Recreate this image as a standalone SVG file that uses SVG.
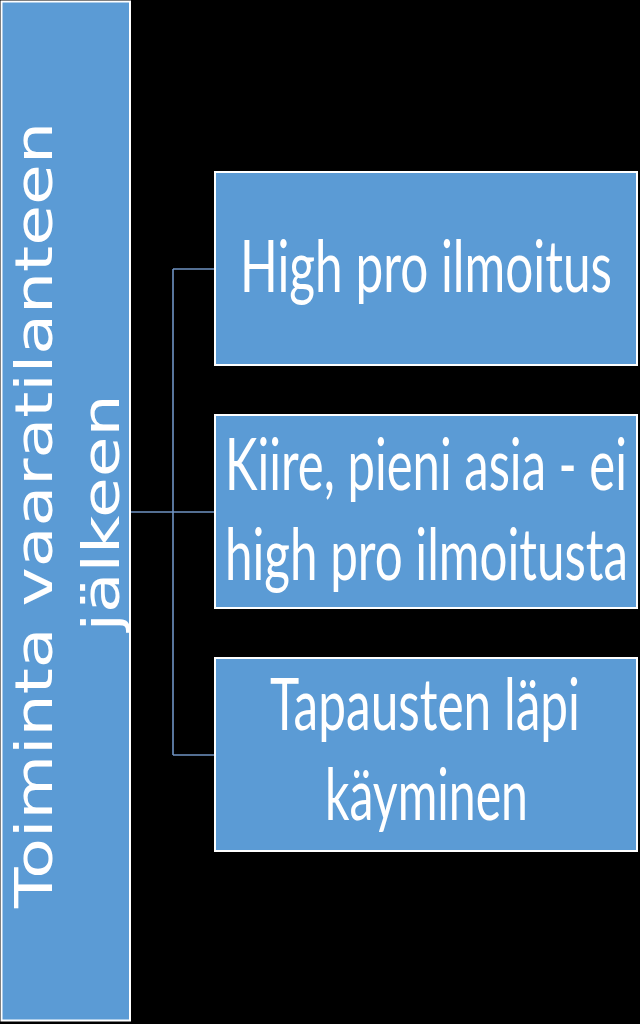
<svg xmlns="http://www.w3.org/2000/svg" width="640" height="1024" viewBox="0 0 640 1024">
  <style>
    .box { fill: #5B9BD5; stroke: #FFFFFF; stroke-width: 2; }
    .conn { fill: none; stroke: #6F93C3; stroke-width: 1.6; }
    .lt { font-family: "DejaVu Sans", Verdana, sans-serif; font-size: 52px; fill: #FFFFFF; text-anchor: middle; }
    .rt { font-family: Lato, "Open Sans", "Liberation Sans", sans-serif; font-size: 72px; fill: #FFFFFF; text-anchor: middle; }
  </style>
  <rect x="0" y="0" width="640" height="1024" fill="#000000"/>
  <g id="connectors">
    <path class="conn" d="M130,512 H215"/>
    <path class="conn" d="M173,269 V755"/>
    <path class="conn" d="M173,269 H215"/>
    <path class="conn" d="M173,755 H215"/>
  </g>
  <g id="root">
    <rect class="box" x="1.5" y="1.5" width="128.5" height="1019"/>
    <text class="lt" transform="translate(52,515) rotate(-90)" x="0" y="0" textLength="786" lengthAdjust="spacingAndGlyphs">Toiminta vaaratilanteen</text>
    <text class="lt" transform="translate(119,513) rotate(-90)" x="0" y="0" textLength="237" lengthAdjust="spacingAndGlyphs">jälkeen</text>
  </g>
  <g id="node1">
    <rect class="box" x="215" y="172" width="422" height="193"/>
    <text class="rt" x="426" y="292" textLength="372" lengthAdjust="spacingAndGlyphs">High pro ilmoitus</text>
  </g>
  <g id="node2">
    <rect class="box" x="215" y="415" width="422" height="193"/>
    <text class="rt" x="426" y="490" textLength="402" lengthAdjust="spacingAndGlyphs">Kiire, pieni asia - ei</text>
    <text class="rt" x="426.5" y="580" textLength="403" lengthAdjust="spacingAndGlyphs">high pro ilmoitusta</text>
  </g>
  <g id="node3">
    <rect class="box" x="215" y="658" width="422" height="193"/>
    <text class="rt" x="425" y="730" textLength="310" lengthAdjust="spacingAndGlyphs">Tapausten läpi</text>
    <text class="rt" x="426.5" y="820" textLength="203" lengthAdjust="spacingAndGlyphs">käyminen</text>
  </g>
</svg>
